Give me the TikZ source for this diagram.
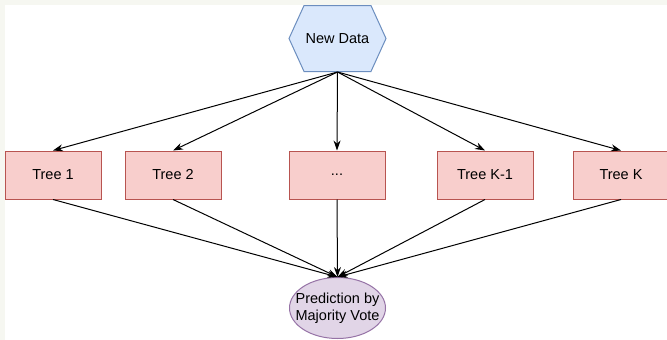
\documentclass[tikz,border=0pt]{standalone}
\usepackage{fontspec}
\setmainfont{Liberation Sans}
\usetikzlibrary{shapes.symbols,shapes.geometric,arrows.meta}
\definecolor{hexfill}{HTML}{DAE8FC}
\definecolor{hexline}{HTML}{6C8EBF}
\definecolor{treefill}{HTML}{F8CECC}
\definecolor{treeline}{HTML}{B85450}
\definecolor{votefill}{HTML}{E1D5E7}
\definecolor{voteline}{HTML}{9673A6}
\definecolor{margin}{HTML}{F6F7F1}
\tikzset{
    tree/.style={draw=treeline,fill=treefill,line width=1pt,minimum width=96pt,minimum height=48pt,inner sep=0pt},
    link/.style={line width=1pt,-{Stealth[length=10pt,width=7pt]}}
}
\begin{document}
\begin{tikzpicture}[x=1pt,y=-1pt,font=\fontsize{14.5}{17}\selectfont]
    \fill[margin] (0,0) rectangle (667,340);
    \fill[white] (5,5) rectangle (667,340);
    \useasboundingbox (0,0) rectangle (667,340);
    \node[signal,signal to=east and west,signal pointer angle=131,draw=hexline,fill=hexfill,
        line width=1pt,minimum width=97pt,minimum height=66pt,inner sep=0pt] (data) at (337.5,38.5) {New Data};
    \node[tree] (t1) at (53,175) {Tree 1};
    \node[tree] (t2) at (173,175) {Tree 2};
    \node[tree] (tdots) at (337,175) {...};
    \node[tree] (tk1) at (485,175) {Tree K-1};
    \node[tree] (tk) at (621,175) {Tree K};
    \node[ellipse,draw=voteline,fill=votefill,line width=1pt,minimum width=96pt,minimum height=61pt,
        inner xsep=-10pt,inner ysep=0pt,align=center] (vote) at (337.5,308) {Prediction by\\Majority Vote};
    % from the data to every tree
    \draw[link] (data.south) -- (t1.north);
    \draw[link] (data.south) -- (t2.north);
    \draw[link] (data.south) -- (tdots.north);
    \draw[link] (data.south) -- (tk1.north);
    \draw[link] (data.south) -- (tk.north);
    % every tree votes
    \draw[link] (t1.south) -- (vote.north);
    \draw[link] (t2.south) -- (vote.north);
    \draw[link] (tdots.south) -- (vote.north);
    \draw[link] (tk1.south) -- (vote.north);
    \draw[link] (tk.south) -- (vote.north);
\end{tikzpicture}
\end{document}
